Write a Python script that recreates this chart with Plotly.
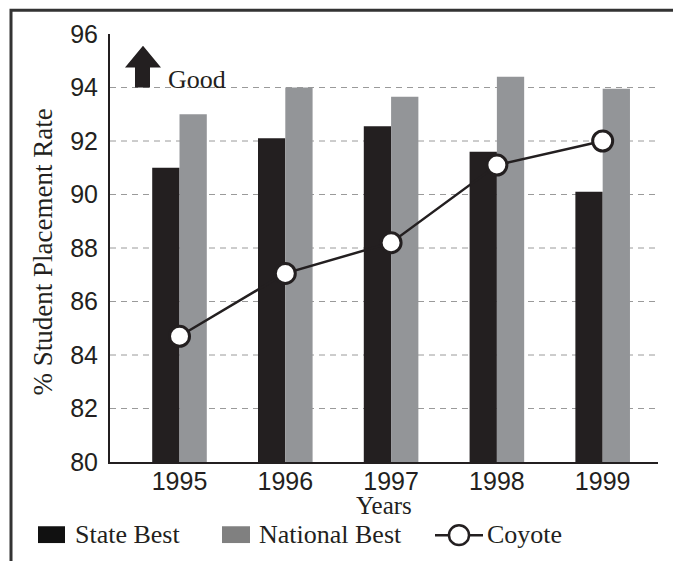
import plotly.graph_objects as go

# ---- data ----
years = ["1995", "1996", "1997", "1998", "1999"]
state_best = [91.0, 92.1, 92.55, 91.6, 90.1]
national_best = [93.0, 94.0, 93.65, 94.4, 93.95]
coyote = [84.7, 87.05, 88.2, 91.1, 92.0]
y_ticks = [80, 82, 84, 86, 88, 90, 92, 94, 96]
grid_vals = [82, 84, 86, 88, 90, 92, 94]

# page body has an 8px margin; work in screen pixels and offset
OFF = 8
W, H = 681 - OFF, 561 - OFF
L, T = 110 - OFF, 29 - OFF
R = W - (658 - OFF)
B = H - (462 - OFF)
PW, PH = W - L - R, H - T - B


def px(x):
    return (x - OFF - L) / PW


def py(y):
    return (H - B - (y - OFF)) / PH


SERIF = "Liberation Serif, Times New Roman, serif"
SANS = "Liberation Sans, Arial, sans-serif"
BLACK = "#231f20"
GREY = "#939598"

fig = go.Figure()
fig.add_trace(go.Bar(x=years, y=state_best, name="State Best",
                     marker=dict(color=BLACK, line=dict(width=0)), showlegend=False))
fig.add_trace(go.Bar(x=years, y=national_best, name="National Best",
                     marker=dict(color=GREY, line=dict(width=0)), showlegend=False))
fig.add_trace(go.Scatter(x=years, y=coyote, name="Coyote", mode="lines+markers",
                         line=dict(color=BLACK, width=2.5),
                         marker=dict(size=20, color="white", line=dict(color=BLACK, width=3)),
                         showlegend=False, cliponaxis=False))

shapes = []
for g in grid_vals:
    shapes.append(dict(type="line", xref="paper", yref="y", x0=0, x1=1, y0=g, y1=g,
                       line=dict(color="#9a9a9a", width=1, dash="6px,5px"), layer="below"))
# outer frame
shapes.append(dict(type="rect", xref="paper", yref="paper",
                   x0=px(11), x1=px(677), y0=py(600), y1=py(5),
                   line=dict(color="#333333", width=3), fillcolor="rgba(0,0,0,0)", layer="above"))
# arrow
pts = [(143, 41), (161, 63), (150, 63), (150, 83), (135, 83), (135, 63), (125, 63)]
path = "M " + " L ".join(f"{px(a):.5f},{py(b):.5f}" for a, b in pts) + " Z"
shapes.append(dict(type="path", xref="paper", yref="paper", path=path,
                   fillcolor=BLACK, line=dict(width=0)))
# legend icons
shapes.append(dict(type="rect", xref="paper", yref="paper", x0=px(38), x1=px(65),
                   y0=py(544), y1=py(527), fillcolor="#111111", line=dict(width=0)))
shapes.append(dict(type="rect", xref="paper", yref="paper", x0=px(222), x1=px(250),
                   y0=py(544), y1=py(527), fillcolor="#808080", line=dict(width=0)))
shapes.append(dict(type="line", xref="paper", yref="paper", x0=px(435), x1=px(483),
                   y0=py(536), y1=py(536), line=dict(color=BLACK, width=2.5)))
shapes.append(dict(type="circle", xref="paper", yref="paper", x0=px(449), x1=px(469),
                   y0=py(546), y1=py(526), fillcolor="white", line=dict(color=BLACK, width=2.5)))

annotations = [
    dict(text="Good", x=px(166), y=py(75), xref="paper", yref="paper", xanchor="left",
         yanchor="middle", showarrow=False, font=dict(family=SERIF, size=26, color=BLACK)),
    dict(text="Years", x=0.5, y=py(506), xref="paper", yref="paper", xanchor="center",
         yanchor="middle", showarrow=False, font=dict(family=SERIF, size=25, color=BLACK)),
    dict(text="% Student Placement Rate", x=px(43), y=py(250), xref="paper", yref="paper",
         xanchor="center", yanchor="middle", textangle=-90, showarrow=False,
         font=dict(family=SERIF, size=27, color=BLACK)),
    dict(text="State Best", x=px(73), y=py(535), xref="paper", yref="paper", xanchor="left",
         yanchor="middle", showarrow=False, font=dict(family=SERIF, size=26, color=BLACK)),
    dict(text="National Best", x=px(257), y=py(535), xref="paper", yref="paper", xanchor="left",
         yanchor="middle", showarrow=False, font=dict(family=SERIF, size=26, color=BLACK)),
    dict(text="Coyote", x=px(485), y=py(535), xref="paper", yref="paper", xanchor="left",
         yanchor="middle", showarrow=False, font=dict(family=SERIF, size=26, color=BLACK)),
]

fig.update_layout(
    width=W, height=H,
    margin=dict(l=L, r=R, t=T, b=B, pad=0),
    paper_bgcolor="white", plot_bgcolor="white",
    barmode="group", bargap=0.484, bargroupgap=0,
    shapes=shapes, annotations=annotations,
    showlegend=False,
    xaxis=dict(type="category", range=[-0.657, 4.523], showgrid=False, zeroline=False,
               showline=True, linecolor=BLACK, linewidth=2, ticks="",
               tickfont=dict(family=SANS, size=25, color=BLACK), ticklabelstandoff=-4),
    yaxis=dict(range=[80, 96], tickvals=y_ticks, showgrid=False, zeroline=False,
               showline=True, linecolor=BLACK, linewidth=2, ticks="",
               tickfont=dict(family=SANS, size=25, color=BLACK), ticklabelstandoff=5),
)

fig.write_html("out.html")
